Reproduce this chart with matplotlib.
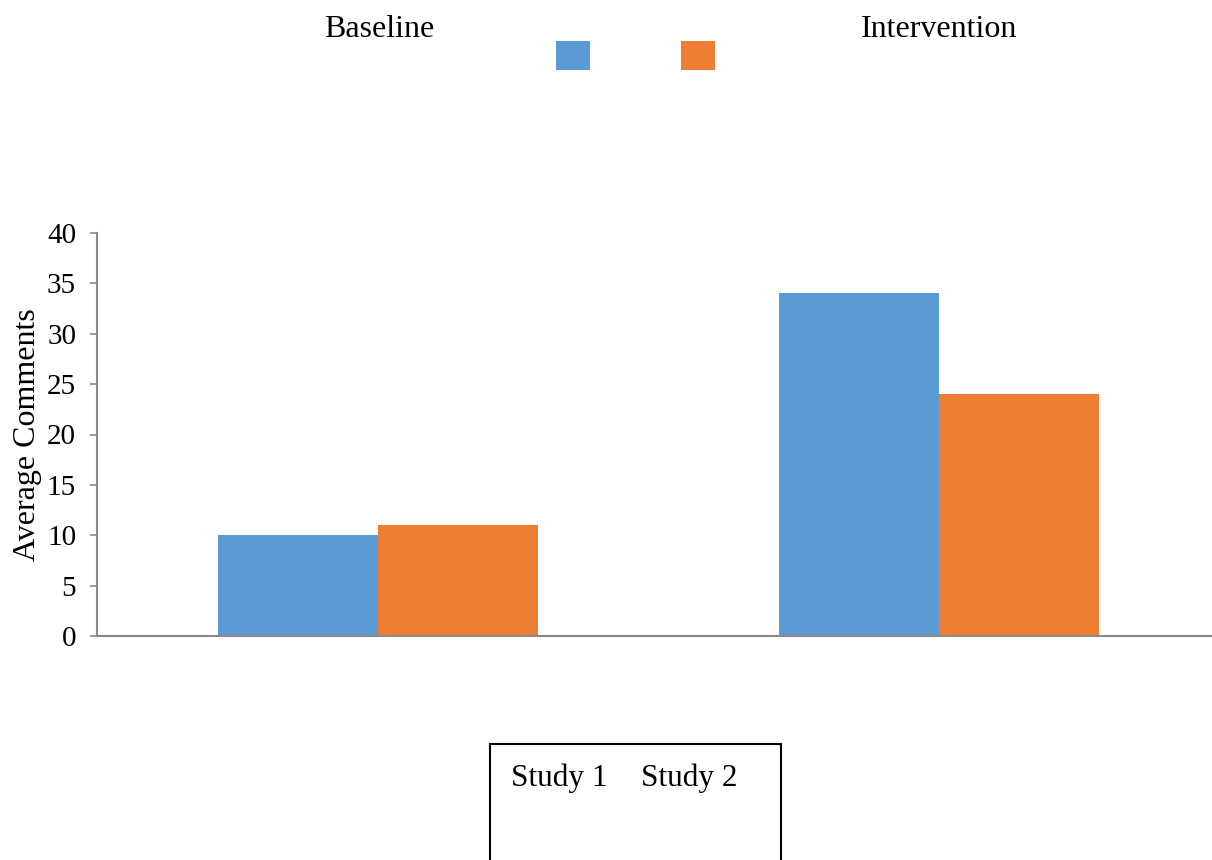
import matplotlib.pyplot as plt
from matplotlib.patches import Rectangle
import numpy as np

plt.rcParams.update({
    "font.family": "serif",
    "font.serif": ["Liberation Serif", "DejaVu Serif"],
})

categories = ["Baseline", "Intervention"]
series_names = ["Study 1", "Study 2"]
study1 = [10, 34]
study2 = [11, 24]
colors = ["#5B9BD5", "#ED7D31"]
y_ticks = [0, 5, 10, 15, 20, 25, 30, 35, 40]

W, H = 1212, 860
fig = plt.figure(figsize=(W / 100, H / 100), dpi=100)
ax = fig.add_axes([97 / W, 1 - 636 / H, 1 - 97 / W, (636 - 233) / H])

x = np.arange(len(categories))
bw = 0.285
ax.bar(x - bw / 2, study1, width=bw, color=colors[0], linewidth=0, zorder=2)
ax.bar(x + bw / 2, study2, width=bw, color=colors[1], linewidth=0, zorder=2)

ax.set_xlim(-0.501, 1.487)
ax.set_ylim(0, 40)
ax.set_yticks(y_ticks)
ax.set_xticks([])
ax.tick_params(axis='y', labelsize=21, length=5, width=1.2, color='#898989', pad=10)

for side in ['top', 'right']:
    ax.spines[side].set_visible(False)
for side in ['left', 'bottom']:
    ax.spines[side].set_color('#898989')
    ax.spines[side].set_linewidth(1.5)

ax.set_ylabel("Average Comments", fontsize=23)
ax.yaxis.set_label_coords(-0.049, 0.5)

# category names floating at the top
fig.text(379 / W, 1 - 37 / H, categories[0], fontsize=23, ha='center', va='baseline')
fig.text(939 / W, 1 - 37 / H, categories[1], fontsize=23, ha='center', va='baseline')

# colour squares
for x0, c in zip([556, 681], colors):
    fig.patches.append(Rectangle((x0 / W, 1 - 70 / H), 34 / W, 29 / H,
                                 transform=fig.transFigure, facecolor=c, edgecolor='none'))

# boxed series names at the bottom
fig.patches.append(Rectangle((490 / W, 1 - 900 / H), 291 / W, 156 / H,
                             transform=fig.transFigure, facecolor='none',
                             edgecolor='black', linewidth=1.5))
fig.text(511 / W, 1 - 786 / H, series_names[0], fontsize=22.5, ha='left', va='baseline')
fig.text(641 / W, 1 - 786 / H, series_names[1], fontsize=22.5, ha='left', va='baseline')

fig.savefig("out.png", dpi=100)
